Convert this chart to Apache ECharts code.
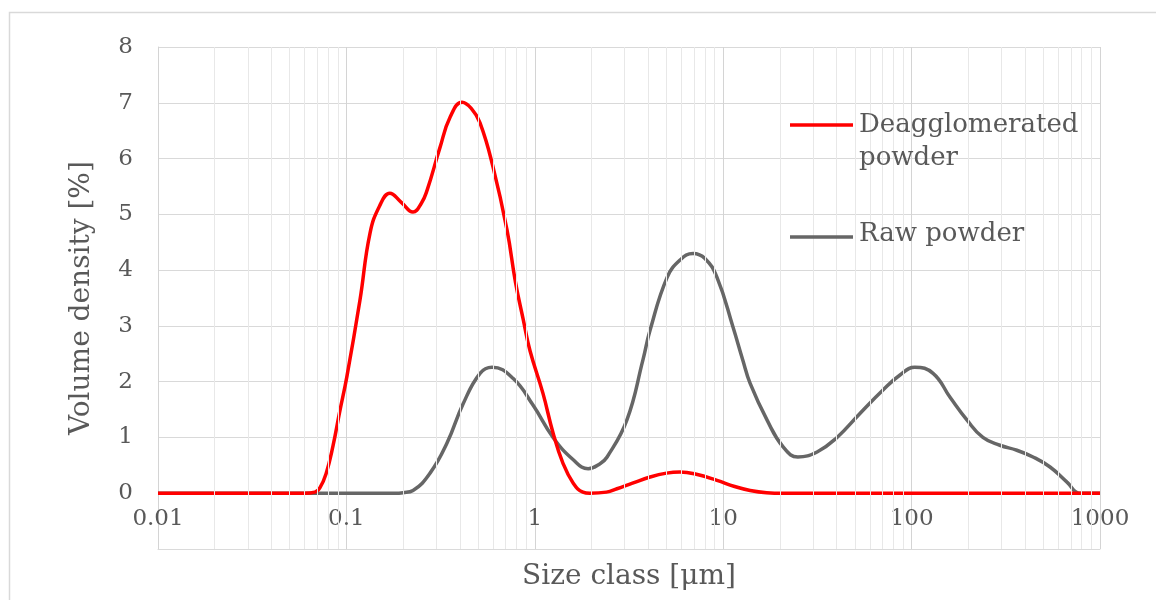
<!DOCTYPE html>
<html>
<head>
<meta charset="utf-8">
<script src="https://cdn.jsdelivr.net/npm/echarts@6/dist/echarts.min.js"></script>
<style>
  html, body { margin: 0; padding: 0; background: #ffffff; }
  #chart { width: 1156px; height: 600px; }
</style>
</head>
<body>
<div id="chart"></div>
<script>
// Particle size distributions (size class in µm, volume density in %)
const deaggSize = [0.01, 0.06, 0.068, 0.0724, 0.078, 0.0849, 0.092, 0.1007, 0.118, 0.1334, 0.15, 0.17, 0.195, 0.2256, 0.25, 0.268, 0.314, 0.355, 0.411, 0.46, 0.512, 0.60, 0.712, 0.79, 0.87, 0.944, 1.105, 1.25, 1.41, 1.60, 1.80, 1.96, 2.4, 2.73, 3.3, 4.09, 5.0, 5.9, 7.2, 9.27, 11.5, 13.9, 17, 20.8, 1000];
const deaggValue = [0, 0, 0.02, 0.1, 0.35, 0.85, 1.45, 2.1, 3.46, 4.66, 5.15, 5.38, 5.22, 5.04, 5.2, 5.43, 6.2, 6.74, 7.01, 6.9, 6.64, 5.85, 4.72, 3.78, 3.1, 2.55, 1.79, 1.08, 0.54, 0.18, 0.02, 0, 0.02, 0.08, 0.18, 0.29, 0.36, 0.38, 0.34, 0.23, 0.12, 0.05, 0.01, 0, 0];

const rawSize = [0.01, 0.18, 0.2, 0.2257, 0.278, 0.342, 0.416, 0.512, 0.593, 0.766, 0.978, 1.25, 1.60, 1.92, 2.22, 2.42, 3.08, 3.75, 4.09, 5.04, 5.9, 6.92, 8.0, 9.27, 11.27, 12.7, 13.9, 17.1, 20.8, 24.9, 31.5, 40.2, 53.2, 70.5, 86.8, 104, 130, 160, 197, 239, 294, 362, 441, 543, 668, 783, 1000];
const rawValue = [0, 0, 0.01, 0.05, 0.36, 0.9, 1.6, 2.15, 2.26, 2.06, 1.58, 1.0, 0.6, 0.44, 0.53, 0.65, 1.31, 2.39, 2.92, 3.87, 4.18, 4.3, 4.21, 3.87, 2.98, 2.39, 1.97, 1.31, 0.83, 0.65, 0.74, 1.0, 1.43, 1.85, 2.12, 2.26, 2.15, 1.72, 1.31, 1.0, 0.86, 0.77, 0.65, 0.47, 0.2, 0, 0];

const seriesNames = ['Deagglomerated powder', 'Raw powder'];
const legendLines = [['Deagglomerated', 'powder'], ['Raw powder']];
const seriesColors = ['#ff0000', '#666666'];

const xMin = 0.01, xMax = 1000;
const yMin = -1, yMax = 8;

// Intermediate log-decade grid positions (2..9 × each decade)
const minorGridSizes = [];
for (let d = xMin; d < xMax * 0.999; d *= 10) {
  for (let k = 2; k <= 9; k++) minorGridSizes.push(+(d * k).toPrecision(6));
}

const textColor = '#595959';
const fontFamily = '"DejaVu Serif", "Liberation Serif", serif';

const chart = echarts.init(document.getElementById('chart'), null, { renderer: 'canvas' });

const pairs = (xs, ys) => xs.map((x, i) => [x, ys[i]]);

chart.setOption({
  animation: false,
  backgroundColor: '#ffffff',
  grid: { left: 158, right: 56, top: 47, bottom: 51, containLabel: false, outerBoundsMode: 'none' },
  xAxis: {
    type: 'log',
    logBase: 10,
    min: xMin,
    max: xMax,
    name: 'Size class [μm]',
    nameLocation: 'middle',
    nameGap: 14,
    nameTextStyle: { color: textColor, fontFamily, fontSize: 28 },
    axisLine: { onZero: false, lineStyle: { color: '#dadada', width: 1 } },
    axisTick: { show: false },
    axisLabel: {
      color: textColor, fontFamily, fontSize: 23, margin: -41,
      formatter: v => String(+(+v).toPrecision(6))
    },
    splitLine: { show: true, lineStyle: { color: '#d4d4d4', width: 1 } },
    minorTick: { show: false },
    minorSplitLine: { show: false }
  },
  yAxis: {
    type: 'value',
    min: yMin,
    max: yMax,
    interval: 1,
    name: 'Volume density [%]',
    nameLocation: 'middle',
    nameGap: 62,
    nameTextStyle: { color: textColor, fontFamily, fontSize: 28 },
    axisLine: { show: true, lineStyle: { color: '#d4d4d4', width: 1 } },
    axisTick: { show: false },
    axisLabel: {
      color: textColor, fontFamily, fontSize: 23, margin: 25,
      formatter: v => (v < 0 ? '' : String(v))
    },
    splitLine: { show: true, lineStyle: { color: '#d9d9d9', width: 1 } }
  },
  series: [
    {
      name: 'minor grid',
      type: 'line',
      data: [],
      z: 1,
      silent: true,
      markLine: {
        silent: true,
        symbol: ['none', 'none'],
        label: { show: false },
        emphasis: { disabled: true },
        lineStyle: { color: '#e8e8e8', width: 1, type: 'solid' },
        data: minorGridSizes.map(v => ({ xAxis: v }))
      }
    },
    {
      name: seriesNames[1],
      type: 'line',
      data: pairs(rawSize, rawValue),
      smooth: 0.45,
      showSymbol: false,
      z: 3,
      lineStyle: { color: seriesColors[1], width: 3.5 },
      itemStyle: { color: seriesColors[1] }
    },
    {
      name: seriesNames[0],
      type: 'line',
      data: pairs(deaggSize, deaggValue),
      smooth: 0.45,
      showSymbol: false,
      z: 4,
      lineStyle: { color: seriesColors[0], width: 3.5 },
      itemStyle: { color: seriesColors[0] }
    }
  ],
  graphic: [
    // outer chart frame
    {
      type: 'rect', z: 0, silent: true,
      shape: { x: 9.5, y: 12.5, width: 1200, height: 700 },
      style: { fill: 'none', stroke: '#d9d9d9', lineWidth: 1.5 }
    },
    // legend
    {
      type: 'line', z: 10, silent: true,
      shape: { x1: 790, y1: 125, x2: 853, y2: 125 },
      style: { stroke: seriesColors[0], lineWidth: 3.5 }
    },
    {
      type: 'text', z: 10, silent: true, left: 859, top: 109,
      style: { text: legendLines[0].join('\n'), fill: textColor, font: '26px ' + fontFamily, lineHeight: 33 }
    },
    {
      type: 'line', z: 10, silent: true,
      shape: { x1: 790, y1: 237, x2: 853, y2: 237 },
      style: { stroke: seriesColors[1], lineWidth: 3.5 }
    },
    {
      type: 'text', z: 10, silent: true, left: 859, top: 221,
      style: { text: legendLines[1].join('\n'), fill: textColor, font: '26px ' + fontFamily }
    }
  ]
});
</script>
</body>
</html>
